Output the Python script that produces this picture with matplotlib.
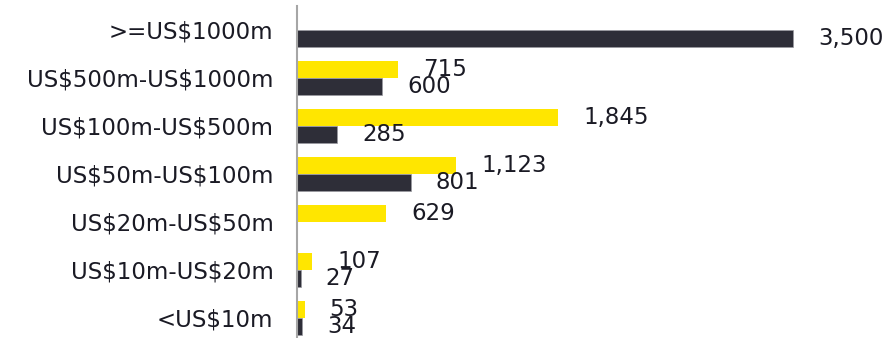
import numpy as np
import matplotlib.pyplot as plt

# deal size bands, top to bottom
categories = [">=US$1000m", "US$500m-US$1000m", "US$100m-US$500m",
              "US$50m-US$100m", "US$20m-US$50m", "US$10m-US$20m", "<US$10m"]
yellow_vals = [0, 715, 1845, 1123, 629, 107, 53]
dark_vals = [3500, 600, 285, 801, 0, 27, 34]

YELLOW = "#FFE600"
DARK = "#2E2E38"
TEXT = "#1a1a24"

plt.rcParams['font.family'] = ['DejaVu Sans']
plt.rcParams['text.parse_math'] = False

fig = plt.figure(figsize=(8.92, 3.38), dpi=100)
ax = fig.add_axes([297 / 892, 0, 1 - 297 / 892, 1 - 6 / 338])

y = -np.arange(len(categories))
h = 0.354
ax.barh(y + h / 2, yellow_vals, height=h, color=YELLOW)
ax.barh(y - h / 2, dark_vals, height=h, color=DARK, edgecolor="#9a9aa0", linewidth=0.5)

# value labels, offset a fixed distance from the bar end
for yy, v in zip(y + h / 2, yellow_vals):
    if v:
        ax.annotate(f"{v:,}", (v, yy), xytext=(25, 0), textcoords="offset pixels",
                    va="center", ha="left", fontsize=16.5, color=TEXT)
for yy, v in zip(y - h / 2, dark_vals):
    if v:
        ax.annotate(f"{v:,}", (v, yy), xytext=(25, 0), textcoords="offset pixels",
                    va="center", ha="left", fontsize=16.5, color=TEXT)

ax.set_yticks(y)
ax.set_yticklabels(categories, fontsize=16.5, color=TEXT)
ax.tick_params(axis="y", length=0, pad=17)
ax.set_xticks([])
ax.set_xlim(0, 4198)
ax.set_ylim(-(338 - 30) / 48, (30 - 6) / 48)

for s in ["top", "right", "bottom"]:
    ax.spines[s].set_visible(False)
ax.spines["left"].set_color("#a6a6a6")
ax.spines["left"].set_linewidth(1.5)

fig.savefig("out.png", dpi=100)
